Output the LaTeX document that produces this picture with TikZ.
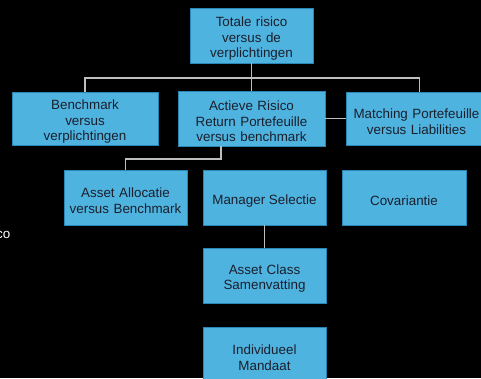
\documentclass[tikz,border=0pt]{standalone}
\usepackage{fontspec}
\setmainfont{Liberation Sans}
\definecolor{boxfill}{HTML}{4FB3E0}
\definecolor{boxline}{HTML}{2A86B4}
\definecolor{boxtext}{HTML}{1A1F2C}
\definecolor{conn}{HTML}{BEBEBE}
\tikzset{
  box/.style={draw=boxline, line width=0.8pt, fill=boxfill, text=boxtext,
    align=center, inner sep=0pt, font=\fontsize{13.4}{15.5}\selectfont,
    execute at begin node={\rule{0pt}{16pt}}},
  link/.style={draw=conn, line width=1.8pt}
}
\begin{document}
\begin{tikzpicture}[x=1pt,y=-1pt]
\fill[black] (0,0) rectangle (481,378);
\useasboundingbox (0,0) rectangle (481,378);
\clip (0,0) rectangle (481,378);
% nodes
\node[box, minimum width=123pt, minimum height=55pt, text width=123pt] (top) at (251.5,35.5) {Totale risico\\versus de\\verplichtingen};
\node[box, minimum width=146pt, minimum height=53pt, text width=146pt] (bench) at (85,118.5) {Benchmark\\versus\\verplichtingen};
\node[box, minimum width=147pt, minimum height=55pt, text width=147pt] (act) at (251.5,118.5) {Actieve Risico\\Return Portefeuille\\versus benchmark};
\node[box, minimum width=147pt, minimum height=53pt, text width=147pt] (match) at (419.5,118.5) {\hspace*{-6pt}Matching Portefeuille\\\hspace*{-6pt}versus Liabilities};
\node[box, minimum width=123pt, minimum height=55pt, text width=123pt] (alloc) at (125.5,197.5) {Asset Allocatie\\versus Benchmark};
\node[box, minimum width=123pt, minimum height=55pt] (mgr) at (264.5,197.5) {Manager Selectie};
\node[box, minimum width=124pt, minimum height=55pt] (cov) at (404,197.5) {Covariantie};
\node[box, minimum width=123pt, minimum height=55pt, text width=123pt] (acs) at (264.5,275.5) {Asset Class\\Samenvatting};
\node[box, minimum width=123pt, minimum height=55pt, text width=123pt] (ind) at (264.5,354.5) {Individueel\\Mandaat};
\node[text=white, font=\fontsize{13.4}{15.5}\selectfont, anchor=east, inner sep=0pt] (frag) at (10.5,234.5) {co};
% connectors
\coordinate (bus) at (0,78);
\draw[link] (top.south) -- (top.south |- bus);
\draw[link] (bench.north) -- (bench.north |- bus) -- (match.north |- bus) -- (match.north);
\draw[link] (act.north) -- (act.north |- bus);
\draw[link] (act.east) -- (match.west);
\coordinate (elb) at (221,159);
\draw[link] (act.south -| elb) -- (elb) -- (alloc.north |- elb) -- (alloc.north);
\draw[link] (mgr.south) -- (acs.north);
\end{tikzpicture}
\end{document}
